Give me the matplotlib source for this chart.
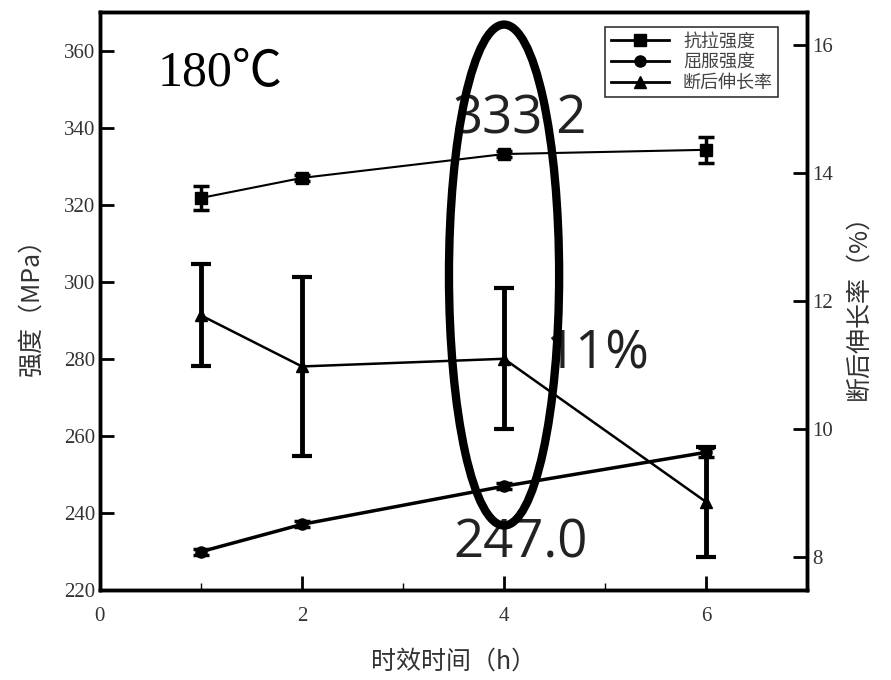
import matplotlib
matplotlib.use("Agg")
import matplotlib.pyplot as plt
from matplotlib.patches import Ellipse
from matplotlib.lines import Line2D

# data points
hours = [1, 2, 4, 6]
tensile = [321.8, 327.0, 333.2, 334.3]
tensile_err = [3.2, 0.8, 0.8, 3.4]
yield_str = [230.0, 237.1, 247.0, 255.8]
yield_err = [0.8, 0.8, 0.8, 1.2]
elong = [11.78, 10.98, 11.1, 8.86]
elong_err = [0.8, 1.4, 1.1, 0.86]
legend_names = ["抗拉强度", "屈服强度", "断后伸长率"]

cjk = ["Noto Sans CJK SC", "DejaVu Sans"]
serif = "Liberation Serif"

fig = plt.figure(figsize=(8.91, 6.80), dpi=100)
ax = fig.add_axes([0.112, 0.132, 0.794, 0.850])
ax2 = ax.twinx()

ax.errorbar(hours, tensile, yerr=tensile_err, color='black', marker='s', markersize=8,
            lw=1.5, elinewidth=2.5, capsize=6, capthick=2.5)
ax.errorbar(hours, yield_str, yerr=yield_err, color='black', marker='o', markersize=8,
            lw=2.5, elinewidth=2.5, capsize=6, capthick=2.5)
ax2.errorbar(hours, elong, yerr=elong_err, color='black', marker='^', markersize=8,
             lw=1.8, elinewidth=3.5, capsize=7, capthick=3)

ax.set_xlim(0, 7)
ax.set_ylim(220, 370)
ax2.set_ylim(7.48, 16.52)
ax.set_xticks([0, 2, 4, 6])
ax.set_xticks([1, 3, 5], minor=True)
ax.set_yticks(range(220, 361, 20))
ax2.set_yticks([8, 10, 12, 14, 16])

for a in (ax, ax2):
    a.tick_params(direction='in', length=10, width=2, labelsize=15, colors='black')
    a.tick_params(which='minor', direction='in', length=5, width=1)
    for lab in a.get_xticklabels() + a.get_yticklabels():
        lab.set_fontfamily(serif)
        lab.set_color('#333333')
    for s in a.spines.values():
        s.set_linewidth(2.5)
ax.tick_params(top=False, right=False)
ax.tick_params(axis='x', pad=12)
ax2.tick_params(left=False)

ax.set_xlabel("时效时间（h）", family=cjk, fontsize=18, color='#333333', labelpad=16)
ax.set_ylabel("强度（MPa）", family=cjk, fontsize=18, color='#333333', labelpad=14)
ax2.set_ylabel("断后伸长率（%）", family=cjk, fontsize=18, color='#333333', labelpad=9)

# annotations
ax.text(1.19, 354, "180℃", family=[serif, "Noto Sans CJK SC"], fontsize=36, ha='center', va='center')
ax.text(4.16, 342, "333.2", family="Open Sans", fontsize=38, ha='center', va='center', color='#222222')
ax.text(4.92, 281, "11%", family="Open Sans", fontsize=38, ha='center', va='center', color='#222222')
ax.text(4.16, 232, "247.0", family="Open Sans", fontsize=38, ha='center', va='center', color='#222222')

ell = Ellipse((4.0, 301.8), width=1.09, height=130, fill=False, edgecolor='black', lw=6, zorder=5)
ax.add_patch(ell)

handles = [Line2D([], [], color='black', marker=m, markersize=8, lw=2) for m in ('s', 'o', '^')]
leg = ax.legend(handles, legend_names, loc='upper right', prop={'family': cjk, 'size': 13},
                handlelength=3.2, frameon=True, fancybox=False, edgecolor='black',
                bbox_to_anchor=(0.972, 0.99), borderpad=0.3, labelspacing=0.15,
                labelcolor='#444444')
leg.get_frame().set_linewidth(1.2)

fig.savefig("out.png", dpi=100)
